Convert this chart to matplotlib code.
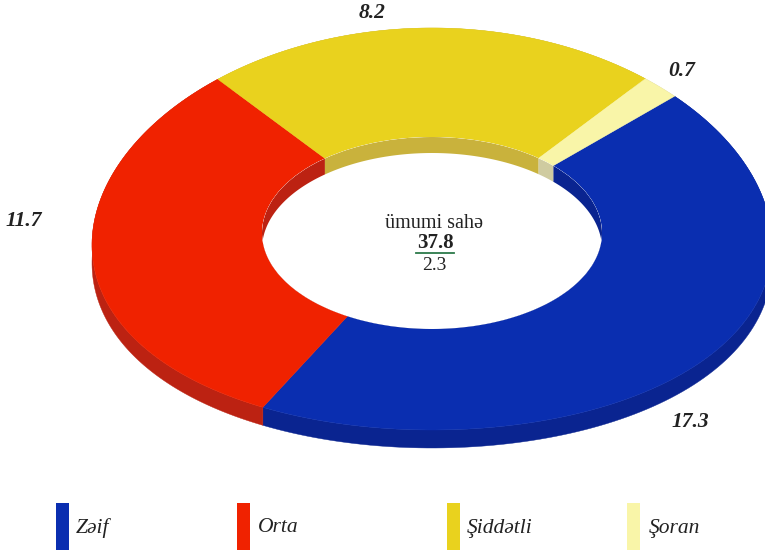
import numpy as np
import matplotlib.pyplot as plt
from matplotlib.patches import Ellipse

categories = ['Zəif', 'Orta', 'Şiddətli', 'Şoran']
values = [17.3, 11.7, 8.2, 0.7]
value_labels = ['17.3', '11.7', '8.2', '0.7']
total_label = '37.8'
sub_label = '2.3'
center_title = 'ümumi sahə'

top_colors = ['#0a2eb0', '#f02200', '#e9d21e', '#f9f5a8']
side_colors = ['#0a2490', '#bc2212', '#c9b23c', '#cfcba0']

# ring geometry in pixels
cx = 432
outer_cy, outer_a, outer_b, outer_sag = 229, 340, 201, 16
inner_cy, inner_a, inner_b = 233, 170, 96
depth = 18
inner_depth = 16
start_angle = 44.5

plt.rcParams['font.family'] = ['Liberation Serif', 'DejaVu Serif']

fig = plt.figure(figsize=(7.65, 5.52), dpi=100)
ax = fig.add_axes([0, 0, 1, 1])
ax.set_xlim(0, 765)
ax.set_ylim(552, 0)
ax.axis('off')


def outer_arc(t1, t2, dy=0):
    # sides sag a bit, the ring is drawn in perspective in the original
    t = np.radians(np.linspace(t1, t2, 120))
    return cx + outer_a * np.cos(t), outer_cy - outer_b * np.sin(t) + outer_sag * np.cos(t) ** 2 + dy


def inner_arc(t1, t2, dy=0):
    t = np.radians(np.linspace(t1, t2, 120))
    return cx + inner_a * np.cos(t), inner_cy - inner_b * np.sin(t) + dy


sweeps = np.array(values) / sum(values) * 360
ends = start_angle - np.cumsum(sweeps)
starts = np.r_[start_angle, ends[:-1]]

# outer side wall
for s, e, c in zip(starts, ends, side_colors):
    x1, y1 = outer_arc(s, e)
    x2, y2 = outer_arc(e, s, depth)
    ax.fill(np.r_[x1, x2], np.r_[y1, y2], color=c, lw=0.3, zorder=1)

# top of the ring
for s, e, c in zip(starts, ends, top_colors):
    x1, y1 = outer_arc(s, e)
    x2, y2 = inner_arc(e, s)
    ax.fill(np.r_[x1, x2], np.r_[y1, y2], color=c, lw=0.3, zorder=2)

# wall seen through the hole
hole = Ellipse((cx, inner_cy), 2 * inner_a, 2 * inner_b, fc='white', ec='none', zorder=3)
ax.add_patch(hole)
for s, e, c in zip(starts, ends, side_colors):
    x1, y1 = inner_arc(s, e)
    x2, y2 = inner_arc(e, s, inner_depth)
    p = ax.fill(np.r_[x1, x2], np.r_[y1, y2], color=c, lw=0, zorder=4)[0]
    p.set_clip_path(hole)

# value labels
label_pos = [(690, 422), (24, 221), (372, 13), (682, 71)]
for (x, y), t in zip(label_pos, value_labels):
    ax.text(x, y, t, ha='center', va='center', fontsize=15.5,
            fontweight='bold', fontstyle='italic', color='#222222', zorder=6)

# centre text
ax.text(434, 223, center_title, ha='center', va='center', fontsize=14.5, color='#222222', zorder=6)
ax.text(435, 243, total_label, ha='center', va='center', fontsize=15,
        fontweight='bold', color='#222222', zorder=6)
ax.plot([416, 454], [252.5, 252.5], color='#2c7a4a', lw=1.3, zorder=6)
ax.text(434, 265, sub_label, ha='center', va='center', fontsize=14, color='#222222', zorder=6)

# legend
bar_x = [63, 243.5, 453.5, 633.5]
text_x = [76, 258, 467, 649]
ax.bar(bar_x, [47] * 4, bottom=503, width=13, color=top_colors, zorder=5)
for x, t in zip(text_x, categories):
    ax.text(x, 528, t, ha='left', va='center', fontsize=15.5, fontstyle='italic',
            color='#222222', zorder=6)

plt.savefig('out.png', dpi=100)
